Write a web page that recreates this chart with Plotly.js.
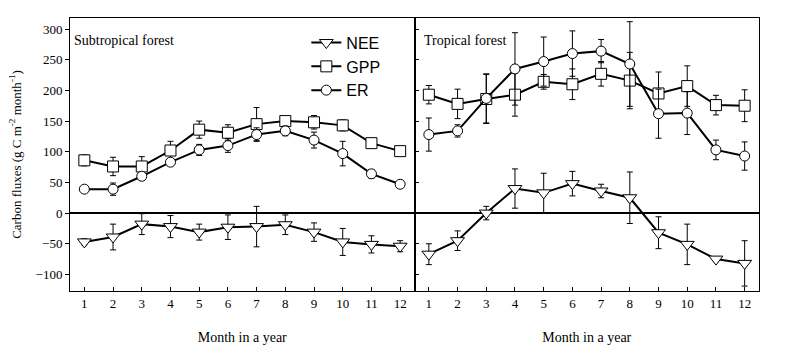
<!DOCTYPE html>
<html>
<head>
<meta charset="utf-8">
<script src="https://cdn.plot.ly/plotly-3.0.1.min.js"></script>
<style>html,body{margin:0;padding:0;background:#fff;}#chart{width:788px;height:361px;}</style>
</head>
<body>
<div id="chart"></div>
<script>
const months = [1,2,3,4,5,6,7,8,9,10,11,12];
const seriesNames = ["NEE","GPP","ER"];
const panelLabels = ["Subtropical forest","Tropical forest"];
const xTitle = "Month in a year";
const yTitle = "Carbon fluxes (g C m<sup>-2</sup> month<sup>-1</sup>)";

// Subtropical forest
const subNEE = [-47,-39,-18,-22,-31,-23,-22,-19,-31,-47,-51,-54];
const subGPP = [86,76,76,102,136,131,145,150,148,143,114,101];
const subER  = [39,39,60,83,103,110,128,134,119,97,64,47];
const subNEEerr = [5,21,17,18,13,20,33,16,15,22,14,9];
const subGPPerr = [9,15,16,15,14,13,27,5,11,9,4,4];
const subERerr  = [4,10,6,5,9,11,11,8,13,20,7,4];

// Tropical forest
const tropNEE = [-67,-45,0,40,33,48,36,25,-32,-51,-75,-82];
const tropGPP = [193,178,186,193,214,210,227,216,195,207,176,175];
const tropER  = [128,134,187,235,247,260,264,243,162,163,103,93];
const tropNEEerr = [17,16,11,32,32,20,11,42,26,33,4,37];
const tropGPPerr = [15,24,40,35,12,25,20,46,35,33,16,26];
const tropERerr  = [27,10,40,59,40,37,19,69,40,35,16,23];

const yTicks = [-100,-50,0,50,100,150,200,250,300];

const sizes = {NEE:12, GPP:11, ER:10};

function mk(name, y, err, xa, ya, showleg){
  return {
    type:"scatter", mode:"lines+markers", name:name, x:months, y:y,
    xaxis:xa, yaxis:ya, showlegend:showleg,
    line:{color:"#000", width:2},
    marker:{symbol:name==="NEE"?"triangle-down":(name==="GPP"?"square":"circle"),
            size:sizes[name], color:"#fff", line:{color:"#000", width:1}},
    error_y:{type:"data", array:err, visible:true, color:"#000", thickness:1, width:3}
  };
}

const data = [
  mk(seriesNames[0], subNEE, subNEEerr, "x", "y", true),
  mk(seriesNames[1], subGPP, subGPPerr, "x", "y", true),
  mk(seriesNames[2], subER,  subERerr,  "x", "y", true),
  mk(seriesNames[0], tropNEE, tropNEEerr, "x2", "y2", false),
  mk(seriesNames[1], tropGPP, tropGPPerr, "x2", "y2", false),
  mk(seriesNames[2], tropER,  tropERerr,  "x2", "y2", false)
];

const serif = "Liberation Serif, Times New Roman, serif";
const tickFont = {family:serif, size:13, color:"#000"};

function xax(domain){
  return {
    domain:domain, range:[0.5,12.5], tickvals:months, ticktext:months.map(String),
    ticks:"inside", ticklen:4, tickcolor:"#000", tickfont:tickFont,
    showline:true, linecolor:"#000", linewidth:1, mirror:true,
    showgrid:false, zeroline:false, fixedrange:true,
    title:{text:xTitle, font:{family:serif, size:14, color:"#000"}, standoff:22}
  };
}

const layout = {
  width:788, height:361,
  margin:{l:70, r:29, t:18, b:70},
  paper_bgcolor:"#fff", plot_bgcolor:"#fff",
  xaxis: xax([0,0.5]),
  xaxis2: xax([0.5,1]),
  yaxis:{
    range:[-127,318], tickvals:yTicks, ticks:"outside", ticklen:4, tickcolor:"#000",
    tickfont:tickFont, showline:true, linecolor:"#000", linewidth:1, mirror:true,
    showgrid:false, zeroline:true, zerolinecolor:"#000", zerolinewidth:2.5,
    title:{text:yTitle, font:{family:serif, size:13, color:"#000"}, standoff:11}
  },
  yaxis2:{
    anchor:"x2", range:[-127,318], tickvals:yTicks, ticks:"inside", ticklen:4, tickcolor:"#000",
    showticklabels:false, showline:true, linecolor:"#000", linewidth:1, mirror:true,
    showgrid:false, zeroline:true, zerolinecolor:"#000", zerolinewidth:2.5
  },
  legend:{
    x:0.343, y:0.972, xanchor:"left", yanchor:"top",
    bgcolor:"rgba(0,0,0,0)", borderwidth:0,
    font:{family:"Liberation Sans, Arial, sans-serif", size:16, color:"#000"},
    tracegroupgap:0
  },
  annotations:[
    {text:panelLabels[0], xref:"paper", yref:"paper", x:0.003, y:0.918, xanchor:"left", yanchor:"middle",
     showarrow:false, font:{family:serif, size:14, color:"#000"}},
    {text:panelLabels[1], xref:"paper", yref:"paper", x:0.511, y:0.916, xanchor:"left", yanchor:"middle",
     showarrow:false, font:{family:serif, size:14, color:"#000"}}
  ]
};

Plotly.newPlot("chart", data, layout, {staticPlot:true, displayModeBar:false});
</script>
</body>
</html>
